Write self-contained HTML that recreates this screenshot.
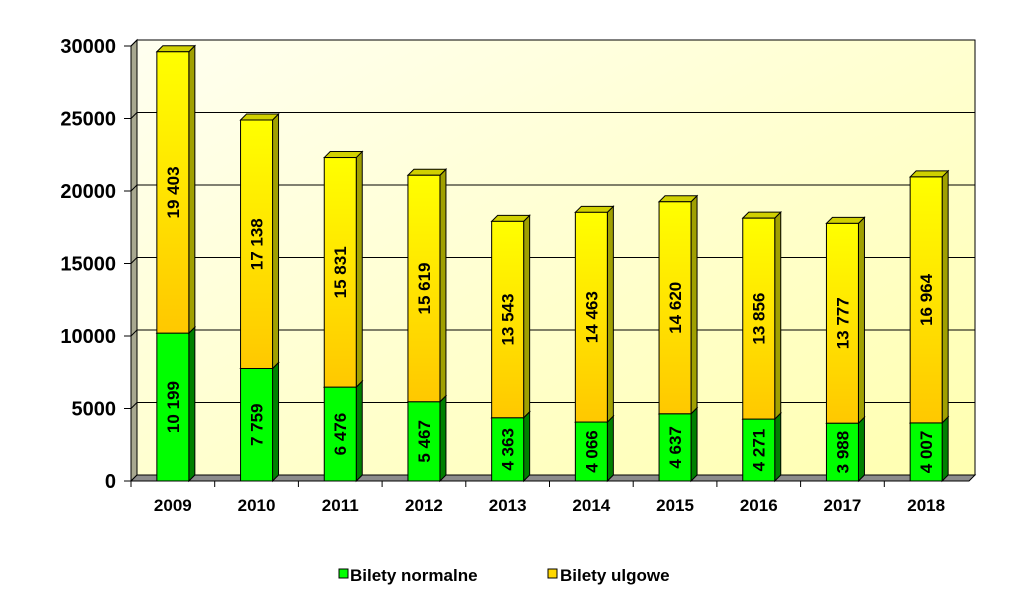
<!DOCTYPE html>
<html><head><meta charset="utf-8"><style>
body{margin:0;background:#fff;}
svg{display:block;font-family:"Liberation Sans",sans-serif;font-weight:bold;}
</style></head><body>
<svg id="c" width="1016" height="600">
<defs>
<linearGradient id="yg" x1="0" y1="0" x2="0" y2="1"><stop offset="0" stop-color="#ffff00"/><stop offset="1" stop-color="#ffc800"/></linearGradient>
<linearGradient id="bg" x1="0" y1="0" x2="1" y2="1"><stop offset="0" stop-color="#fffff0"/><stop offset="1" stop-color="#ffffb0"/></linearGradient>
</defs>
<g id="plot"></g>
<g>
<rect x="339" y="569" width="9" height="9" fill="#00ff00" stroke="#000"/>
<text x="350" y="581" font-size="17">Bilety normalne</text>
<rect x="548" y="569" width="9" height="9" fill="#ffd700" stroke="#000"/>
<text x="560" y="581" font-size="17">Bilety ulgowe</text>
</g>
</svg>
<script>
const categories=["2009","2010","2011","2012","2013","2014","2015","2016","2017","2018"];
const normalne=[10199,7759,6476,5467,4363,4066,4637,4271,3988,4007];
const ulgowe=[19403,17138,15831,15619,13543,14463,14620,13856,13777,16964];
const yTicks=[0,5000,10000,15000,20000,25000,30000];
const NS="http://www.w3.org/2000/svg";
const g=document.getElementById('plot');
const X0=131,Y0=481,DX=6,DY=6,step=83.7,bw=32,right=969;
const y=v=>Y0-v*(435/30000);
const xc=i=>X0+step*(i+0.5);
function el(t,a,p){const e=document.createElementNS(NS,t);for(const k in a)e.setAttribute(k,a[k]);(p||g).appendChild(e);return e;}
function fmt(v){return String(v).replace(/\B(?=(\d{3})+(?!\d))/g,' ');}
let e=el('rect',{x:X0+DX,y:y(30000)-DY,width:right-X0,height:y(0)-y(30000),fill:'url(#bg)',stroke:'#000'});

e=el('polygon',{points:`${X0},${y(30000)} ${X0+DX},${y(30000)-DY} ${X0+DX},${Y0-DY} ${X0},${Y0}`,fill:'#a8a890',stroke:'#000'});

e=el('polygon',{points:`${X0},${Y0} ${X0+DX},${Y0-DY} ${right+DX},${Y0-DY} ${right},${Y0}`,fill:'#8c8c8c',stroke:'#000'});

yTicks.forEach(t=>{
 if(t>0){const l=el('polyline',{points:`${X0},${y(t)} ${X0+DX},${y(t)-DY} ${right+DX},${y(t)-DY}`,fill:'none',stroke:'#000'});
 }
 const tk=el('line',{x1:X0-7,x2:X0,y1:y(t),y2:y(t),stroke:'#000'});
 
 const tx=el('text',{x:X0-15,y:y(t)+7,'text-anchor':'end','font-size':20});tx.textContent=t;
 
});
el('line',{x1:X0,x2:X0,y1:y(30000),y2:Y0,stroke:'#000'});
el('line',{x1:X0,x2:right,y1:Y0,y2:Y0,stroke:'#000'});
categories.forEach((c,i)=>{
 const tk=el('line',{x1:X0+step*i,x2:X0+step*i,y1:Y0,y2:Y0+6,stroke:'#000'});
 
 const cx=xc(i),x=cx-bw/2;
 const segs=[[0,normalne[i],'#00ff00','#008000','#00b000','normalne'],[normalne[i],normalne[i]+ulgowe[i],'url(#yg)','#a0a000','#d0d000','ulgowe']];
 segs.forEach(s=>{
  const yt=y(s[1]),yb=y(s[0]);
  const grp=el('g',{});
  
  el('polygon',{points:`${x+bw},${yt} ${x+bw+DX},${yt-DY} ${x+bw+DX},${yb-DY} ${x+bw},${yb}`,fill:s[3],stroke:'#000'},grp);
  el('polygon',{points:`${x},${yt} ${x+DX},${yt-DY} ${x+bw+DX},${yt-DY} ${x+bw},${yt}`,fill:s[4],stroke:'#000'},grp);
  el('rect',{x:x,y:yt,width:bw,height:yb-yt,fill:s[2],stroke:'#000'},grp);
  const v=s[1]-s[0],my=(yt+yb)/2;
  const t=el('text',{x:cx,y:my,'text-anchor':'middle','font-size':17,transform:`rotate(-90 ${cx} ${my})`,dy:6},grp);
  t.textContent=fmt(v);
 });
 const tl=el('text',{x:cx,y:511,'text-anchor':'middle','font-size':17});tl.textContent=c;
 
});
</script>
</body></html>
